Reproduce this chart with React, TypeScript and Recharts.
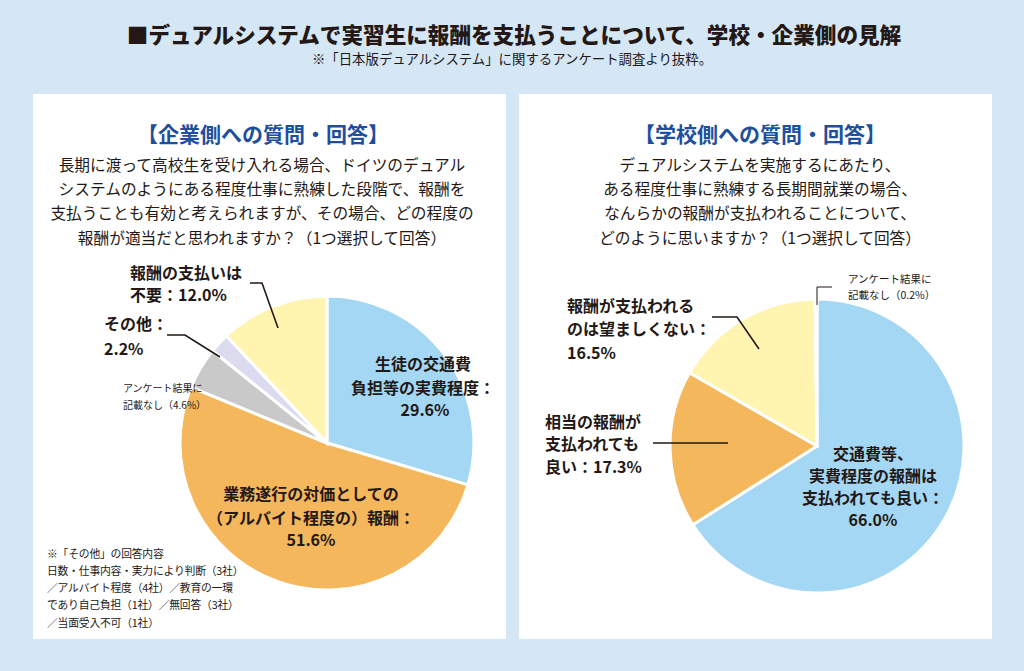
import React from 'react';
import { PieChart, Pie, Cell } from 'recharts';

// ---- data ----
const companyCategories = [
  '生徒の交通費負担等の実費程度',
  '業務遂行の対価としての（アルバイト程度の）報酬',
  'アンケート結果に記載なし',
  'その他',
  '報酬の支払いは不要',
];
const companyValues = [29.6, 51.6, 4.6, 2.2, 12.0];

const schoolCategories = [
  '交通費等、実費程度の報酬は支払われても良い',
  '相当の報酬が支払われても良い',
  '報酬が支払われるのは望ましくない',
  'アンケート結果に記載なし',
];
const schoolValues = [66.0, 17.3, 16.5, 0.2];

const companyColors = ['#a3d7f3', '#f5b75c', '#c9c9c9', '#dcdaef', '#fff5b1'];
const schoolColors = ['#a3d7f3', '#f5b75c', '#fff5b1', '#d9d8ea'];

const companyData = companyCategories.map((name, i) => ({ name, value: companyValues[i] }));
const schoolData = schoolCategories.map((name, i) => ({ name, value: schoolValues[i] }));

const pct = (v: number) => `${v.toFixed(1)}%`;

const INK = '#231815';
const BLUE = '#1d4f9e';
const FONT = '"Noto Sans CJK JP", "Noto Sans", sans-serif';

const T = (props: any) => <text fill={INK} dominantBaseline="central" {...props} />;

export default function App() {
  return (
    <div
      style={{
        position: 'fixed',
        left: 0,
        top: 0,
        width: 1024,
        height: 671,
        background: '#d5e6f4',
        fontFamily: FONT,
        overflow: 'hidden',
      }}
    >
      <div style={{ position: 'absolute', left: 33, top: 94, width: 473, height: 545, background: '#ffffff' }} />
      <div style={{ position: 'absolute', left: 519, top: 94, width: 473, height: 545, background: '#ffffff' }} />

      <div style={{ position: 'absolute', left: 0, top: 0 }}>
        <PieChart width={1024} height={671} margin={{ top: 0, right: 0, bottom: 0, left: 0 }}>
          <Pie
            data={companyData}
            dataKey="value"
            nameKey="name"
            cx={327}
            cy={443}
            outerRadius={147}
            innerRadius={0}
            startAngle={90}
            endAngle={-270}
            stroke="#ffffff"
            strokeWidth={3}
            isAnimationActive={false}
          >
            {companyData.map((d, i) => (
              <Cell key={d.name} fill={companyColors[i]} />
            ))}
          </Pie>
          <Pie
            data={schoolData}
            dataKey="value"
            nameKey="name"
            cx={817}
            cy={446}
            outerRadius={147}
            innerRadius={0}
            startAngle={90}
            endAngle={-270}
            stroke="#ffffff"
            strokeWidth={3}
            isAnimationActive={false}
          >
            {schoolData.map((d, i) => (
              <Cell key={d.name} fill={schoolColors[i]} />
            ))}
          </Pie>
        </PieChart>
      </div>

      <svg
        width={1024}
        height={671}
        style={{ position: 'absolute', left: 0, top: 0, pointerEvents: 'none', fontFamily: FONT }}
      >
        {/* title */}
        <T x={514} y={33} fontSize={21.6} fontWeight={900} textAnchor="middle">
          ■デュアルシステムで実習生に報酬を支払うことについて、学校・企業側の見解
        </T>
        <T x={512} y={58} fontSize={13.4} textAnchor="middle">
          ※「日本版デュアルシステム」に関するアンケート調査より抜粋。
        </T>

        {/* left panel header */}
        <T x={263} y={133} fontSize={21} fontWeight={700} fill={BLUE} textAnchor="middle">
          【企業側への質問・回答】
        </T>
        <T x={262} y={164} fontSize={15.7} textAnchor="middle">長期に渡って高校生を受け入れる場合、ドイツのデュアル</T>
        <T x={262} y={188} fontSize={15.7} textAnchor="middle">システムのようにある程度仕事に熟練した段階で、報酬を</T>
        <T x={262} y={212} fontSize={15.7} textAnchor="middle">支払うことも有効と考えられますが、その場合、どの程度の</T>
        <T x={262} y={237} fontSize={15.7} textAnchor="middle">報酬が適当だと思われますか？（1つ選択して回答）</T>

        {/* right panel header */}
        <T x={760} y={133} fontSize={21} fontWeight={700} fill={BLUE} textAnchor="middle">
          【学校側への質問・回答】
        </T>
        <T x={760} y={164} fontSize={15.7} textAnchor="middle">デュアルシステムを実施するにあたり、</T>
        <T x={760} y={188} fontSize={15.7} textAnchor="middle">ある程度仕事に熟練する長期間就業の場合、</T>
        <T x={760} y={212} fontSize={15.7} textAnchor="middle">なんらかの報酬が支払われることについて、</T>
        <T x={760} y={237} fontSize={15.7} textAnchor="middle">どのように思いますか？（1つ選択して回答）</T>

        {/* left pie labels */}
        <T x={423} y={363} fontSize={16} fontWeight={700} textAnchor="middle">生徒の交通費</T>
        <T x={423} y={387} fontSize={16} fontWeight={700} textAnchor="middle">負担等の実費程度：</T>
        <T x={425} y={409} fontSize={16} fontWeight={700} textAnchor="middle">{pct(companyValues[0])}</T>

        <T x={311} y={493} fontSize={16} fontWeight={700} textAnchor="middle">業務遂行の対価としての</T>
        <T x={311} y={517} fontSize={16} fontWeight={700} textAnchor="middle">（アルバイト程度の）報酬：</T>
        <T x={311} y={539} fontSize={16} fontWeight={700} textAnchor="middle">{pct(companyValues[1])}</T>

        <T x={123} y={387} fontSize={10}>アンケート結果に</T>
        <T x={123} y={404} fontSize={10}>{`記載なし（${pct(companyValues[2])}）`}</T>

        <T x={104} y={323} fontSize={16} fontWeight={700}>その他：</T>
        <T x={104} y={348} fontSize={16} fontWeight={700}>{pct(companyValues[3])}</T>
        <polyline points="167,335 185,335 220,357" fill="none" stroke={INK} strokeWidth={1.6} />

        <T x={130} y={272} fontSize={16} fontWeight={700}>報酬の支払いは</T>
        <T x={130} y={294} fontSize={16} fontWeight={700}>{`不要：${pct(companyValues[4])}`}</T>
        <polyline points="250,283 262,283 278,328" fill="none" stroke={INK} strokeWidth={1.6} />

        {/* footnote */}
        <T x={47} y={553} fontSize={10.8} letterSpacing={-0.2}>※「その他」の回答内容</T>
        <T x={47} y={570} fontSize={10.8} letterSpacing={-0.2}>日数・仕事内容・実力により判断（3社）</T>
        <T x={47} y={587} fontSize={10.8} letterSpacing={-0.2}>／アルバイト程度（4社）／教育の一環</T>
        <T x={47} y={604} fontSize={10.8} letterSpacing={-0.2}>であり自己負担（1社）／無回答（3社）</T>
        <T x={47} y={622} fontSize={10.8} letterSpacing={-0.2}>／当面受入不可（1社）</T>

        {/* right pie labels */}
        <T x={873} y={453} fontSize={16} fontWeight={700} textAnchor="middle">交通費等、</T>
        <T x={873} y={475} fontSize={16} fontWeight={700} textAnchor="middle">実費程度の報酬は</T>
        <T x={873} y={497} fontSize={16} fontWeight={700} textAnchor="middle">支払われても良い：</T>
        <T x={873} y={519} fontSize={16} fontWeight={700} textAnchor="middle">{pct(schoolValues[0])}</T>

        <T x={545} y={421} fontSize={16} fontWeight={700}>相当の報酬が</T>
        <T x={545} y={443} fontSize={16} fontWeight={700}>支払われても</T>
        <T x={545} y={466} fontSize={16} fontWeight={700}>{`良い：${pct(schoolValues[1])}`}</T>
        <line x1={653} y1={443} x2={728} y2={443} stroke={INK} strokeWidth={1.6} />

        <T x={567} y={305} fontSize={16} fontWeight={700}>報酬が支払われる</T>
        <T x={567} y={328} fontSize={16} fontWeight={700}>のは望ましくない：</T>
        <T x={567} y={352} fontSize={16} fontWeight={700}>{pct(schoolValues[2])}</T>
        <polyline points="712,317 737,317 759,349" fill="none" stroke={INK} strokeWidth={1.6} />

        <T x={848} y={278} fontSize={10.5}>アンケート結果に</T>
        <T x={848} y={294} fontSize={10.5}>{`記載なし（${pct(schoolValues[3])}）`}</T>
        <polyline points="832,287 817,287 817,305" fill="none" stroke={INK} strokeWidth={1} />
      </svg>
    </div>
  );
}
